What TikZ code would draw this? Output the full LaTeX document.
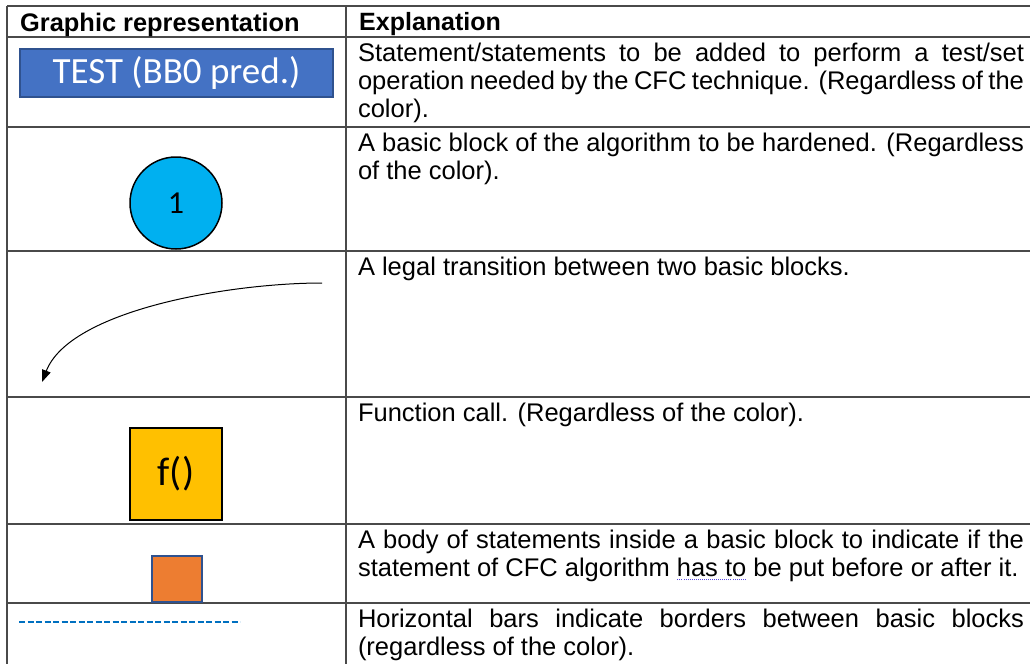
\documentclass[tikz,border=0pt]{standalone}
\usepackage{fontspec}
\setmainfont{Liberation Sans}
\newfontfamily\bodyfont{Liberation Sans}
\newfontfamily\calfont{Carlito}
\usetikzlibrary{arrows.meta}
\definecolor{testblue}{HTML}{4472C4}
\definecolor{testborder}{HTML}{2F528F}
\definecolor{bbcyan}{HTML}{00B0F0}
\definecolor{fyellow}{HTML}{FFC000}
\definecolor{sorange}{HTML}{ED7D31}
\definecolor{barblue}{HTML}{0070C0}
\definecolor{gridc}{HTML}{4A4A4A}
\definecolor{spellc}{HTML}{5A4BE0}
\newcommand\spellul[1]{\leavevmode\setbox0\hbox{#1}\rlap{\color{spellc}\raisebox{-4pt}{\hbox to\wd0{\xleaders\hbox to 2pt{\hss\rule{1pt}{1.2pt}\hss}\hfill}}}\box0{}}
\begin{document}
\begin{tikzpicture}[x=1pt,y=-1pt,
  gridline/.style={draw=gridc,line width=1.3pt},
  bodytext/.style={anchor=base west,inner sep=0pt,outer sep=0pt,text width=666pt,align=justify,
    font=\bodyfont\fontsize{25.5}{28.2}\selectfont},
  lhead/.style={anchor=base west,inner sep=0pt,font=\bfseries\fontsize{25.4}{28}\selectfont},
  rhead/.style={anchor=base west,inner sep=0pt,font=\bfseries\fontsize{25}{28}\selectfont},
  testbox/.style={rectangle,draw=testborder,line width=1.5pt,fill=testblue,text=white,
    minimum width=313pt,minimum height=48pt,inner sep=0pt,font=\calfont\fontsize{37}{40}\selectfont},
  bbcircle/.style={circle,draw=black,line width=1.5pt,fill=bbcyan,minimum size=92pt,inner sep=0pt,
    font=\calfont\fontsize{32}{34}\selectfont},
  funcbox/.style={rectangle,draw=black,line width=1.5pt,fill=fyellow,minimum size=92pt,inner sep=0pt,
    font=\calfont\fontsize{40}{44}\selectfont},
  stmtbox/.style={rectangle,draw=testborder,line width=1.5pt,fill=sorange,minimum width=50pt,minimum height=46pt,inner sep=0pt},
  trans/.style={draw=black,line width=1pt,-{Triangle[length=12pt,width=9pt]}},
  borderbar/.style={draw=barblue,line width=2.2pt,dash pattern=on 6pt off 2.5pt}
]
\useasboundingbox (0,0) rectangle (1030,664);
\fill[white] (0,0) rectangle (1030,664);
% table grid
\draw[gridline] (7,6) -- (1030,6);
\draw[gridline] (7,37) -- (1030,37);
\draw[gridline] (7,127) -- (1030,127);
\draw[gridline] (7,251) -- (1030,251);
\draw[gridline] (7,397) -- (1030,397);
\draw[gridline] (7,524) -- (1030,524);
\draw[gridline] (7,603) -- (1030,603);
\draw[gridline] (7,6) -- (7,664);
\draw[gridline] (346,6) -- (346,664);
% headers
\node[lhead] (hgr) at (20,31) {Graphic representation};
\node[rhead] (hex) at (359,30) {Explanation};
% row 1
\node[testbox] (test) at (176.5,73) {TEST (BB0 pred.)};
\node[bodytext] (e1) at (358,61) {Statement/statements to be added to perform a test/set\linebreak operation needed by the CFC technique. (Regardless of the\linebreak color).};
% row 2
\node[bbcircle] (bb) at (176,203) {1};
\node[bodytext] (e2) at (358,151) {A basic block of the algorithm to be hardened. (Regardless\linebreak of the color).};
% row 3
\coordinate (as) at (322,283);
\coordinate (ae) at (42,382);
\draw[trans] (as) .. controls (230,283) and (70,310) .. (ae);
\node[bodytext] (e3) at (358,275) {A legal transition between two basic blocks.};
% row 4
\node[funcbox] (fc) at (176,474) {f()};
\node[bodytext] (e4) at (358,421) {Function call. (Regardless of the color).};
% row 5
\node[stmtbox] (st) at (177,579) {};
\node[bodytext] (e5) at (358,548) {A body of statements inside a basic block to indicate if the\linebreak statement of CFC algorithm \spellul{has to} be put before or after it.};
% row 6
\coordinate (d1) at (19,622);
\coordinate (d2) at (240,622);
\draw[borderbar] (d1) -- (d2);
\node[bodytext] (e6) at (358,627) {Horizontal bars indicate borders between basic blocks\linebreak (regardless of the color).};
\end{tikzpicture}
\end{document}
